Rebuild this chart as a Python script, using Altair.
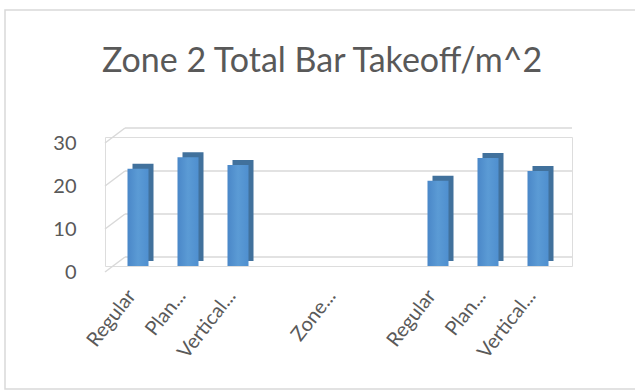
import json
import altair as alt
import pandas as pd

# Category slots along the x axis (two blank slots around the "Zone..." group header)
slot_labels = ["Regular", "Plan...", "Vertical...", "", "Zone...", "", "Regular", "Plan...", "Vertical..."]
takeoff = [22.6, 25.3, 23.5, None, None, None, 19.8, 25.1, 22.1]
y_ticks = [0, 10, 20, 30]
title_text = "Zone 2 Total Bar Takeoff/m^2"

FONT = "Lato"
TEXT = "#595959"
GRID = "#D9D9D9"

slots = list(range(len(slot_labels)))
bars = pd.DataFrame({"slot": slots, "label": slot_labels, "value": takeoff})
grid = pd.DataFrame({"v": y_ticks})
title_df = pd.DataFrame({"t": [title_text]})

label_expr = json.dumps(slot_labels) + "[datum.value]"

x_enc = alt.X(
    "slot:O",
    title=None,
    scale=alt.Scale(domain=slots, range=[8, 458], paddingInner=0.58, paddingOuter=0.29),
    axis=alt.Axis(
        labelExpr=label_expr, labelAngle=-52, labelAlign="right", labelBaseline="middle",
        labelFont=FONT, labelFontSize=20, labelColor=TEXT, ticks=False, domain=False,
        labelPadding=26, labelOffset=-6,
    ),
)
y_scale = alt.Scale(domain=[0, 30], nice=False)

# Back wall gridlines
back_grid = alt.Chart(grid).mark_rule(color=GRID, strokeWidth=1.5, yOffset=-9, y2Offset=-9).encode(
    y=alt.Y("v:Q", scale=y_scale, title=None,
            axis=alt.Axis(values=y_ticks, labelFont=FONT, labelFontSize=20, labelColor=TEXT,
                          ticks=False, domain=False, grid=False, labelPadding=29, labelOffset=6)),
    y2="v:Q",
    x=alt.value(20),
    x2=alt.value(467),
)

# Floor-to-wall diagonals at the left edge
side_grid = alt.Chart(grid).mark_rule(color=GRID, strokeWidth=1.5, yOffset=6, y2Offset=-9).encode(
    y=alt.Y("v:Q", scale=y_scale),
    y2="v:Q",
    x=alt.value(0),
    x2=alt.value(20),
)

# Bar depth: a darker copy pushed back and up, then the lit front face
bar_depth = alt.Chart(bars).mark_bar(
    color="#41719C", xOffset=5, x2Offset=5, yOffset=-5, y2Offset=-5
).encode(x=x_enc, y=alt.Y("value:Q", scale=y_scale))

bar_front = alt.Chart(bars).mark_bar(
    color=alt.Gradient(
        gradient="linear", x1=0, x2=1, y1=0, y2=0,
        stops=[alt.GradientStop(color="#4A87C8", offset=0),
               alt.GradientStop(color="#5B9BD5", offset=0.5),
               alt.GradientStop(color="#4F8FCF", offset=1)],
    ),
).encode(x=x_enc, y=alt.Y("value:Q", scale=y_scale))

# Outer chart frame
frame = alt.Chart(title_df).mark_rect(fill=None, stroke=GRID, strokeWidth=1.5).encode(
    x=alt.value(-100), x2=alt.value(580), y=alt.value(-127), y2=alt.value(252)
)

# Chart title
title = alt.Chart(title_df).mark_text(
    font=FONT, fontSize=34, color=TEXT, align="center", baseline="alphabetic"
).encode(text="t:N", x=alt.value(217), y=alt.value(-65))

chart = alt.layer(frame, back_grid, side_grid, bar_depth, bar_front, title).properties(
    width=467,
    height=129,
    padding={"left": 105, "top": 137, "right": 63, "bottom": 124},
    autosize=alt.AutoSizeParams(type="none"),
).configure_view(strokeWidth=0, strokeOpacity=0).configure(background="white")

chart.save("out.html", embed_options={"renderer": "svg", "actions": False})
